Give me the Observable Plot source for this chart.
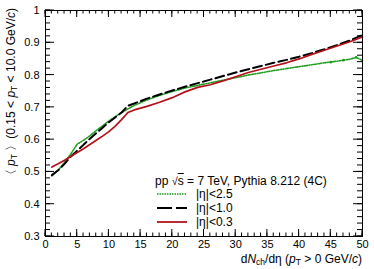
<!DOCTYPE html>
<html><head><meta charset="utf-8">
<script src="https://cdn.jsdelivr.net/npm/d3@7"></script>
<script src="https://cdn.jsdelivr.net/npm/@observablehq/plot@0.6"></script>
<style>
body{margin:0;background:#fff;font-family:"Liberation Sans",Arial,sans-serif;}
#wrap{position:relative;width:374px;height:269px;}
#legend{position:absolute;left:155px;top:175px;font-size:12px;line-height:14px;color:#000;}
#legend .row{display:flex;align-items:center;height:14px;}
#legend .row.first{height:12px;}
#legend svg{margin-right:9px;}
</style>
</head><body>
<div id="wrap"></div>
<script>
// data
const xGreen = [1,2,3,4,5,6,7,8,9,10,12,14,16,18,20,22,24,26,28,30,32,34,36,38,40,42,44,46,48,49,50];
const yGreen = [0.488,0.505,0.530,0.556,0.586,0.598,0.612,0.628,0.643,0.658,0.684,0.706,0.723,0.737,0.749,0.760,0.768,0.776,0.784,0.792,0.800,0.807,0.814,0.820,0.826,0.832,0.838,0.843,0.849,0.855,0.845];
const xBlack = [1,2,3,4,5,6,7,8,9,10,12,13,14,16,18,20,22,24,26,28,30,32,34,36,38,40,42,44,46,48,50];
const yBlack = [0.490,0.505,0.525,0.548,0.566,0.584,0.603,0.620,0.637,0.654,0.684,0.705,0.712,0.727,0.740,0.752,0.764,0.775,0.786,0.797,0.808,0.818,0.828,0.838,0.847,0.857,0.868,0.880,0.893,0.907,0.924];
const xRed = [1,2,3,4,5,6,7,8,9,10,11,12,13,14,16,18,20,22,24,26,28,30,32,34,36,38,40,42,44,46,48,50];
const yRed = [0.515,0.525,0.536,0.548,0.560,0.572,0.585,0.598,0.611,0.625,0.642,0.662,0.684,0.692,0.703,0.716,0.730,0.748,0.762,0.770,0.782,0.795,0.808,0.818,0.828,0.838,0.850,0.864,0.877,0.890,0.903,0.918];
const markerX = [45,47,49];
const markerY = [0.840,0.846,0.855];
const legendLabels = ["|η|<2.5","|η|<1.0","|η|<0.3"];
const xMajor = [0,5,10,15,20,25,30,35,40,45,50];
const xMinor = d3.range(0,51,1);
const yMajor = [0.3,0.4,0.5,0.6,0.7,0.8,0.9,1.0];
const yMinor = d3.range(0,36).map(i => +(0.3 + i*0.02).toFixed(2)).filter(v => v <= 1.0001);

const cGreen = "#1f9e1f", cBlack = "#000", cRed = "#b3121b";
const dGreen = "3,1.5,1,1.5,1,1.5";
const dBlack = "9,4";

const green = xGreen.map((x,i)=>({x, y:yGreen[i]}));
const black = xBlack.map((x,i)=>({x, y:yBlack[i]}));
const red = xRed.map((x,i)=>({x, y:yRed[i]}));
const markers = markerX.map((x,i)=>({x, y:markerY[i]}));

const W = 374, H = 269, ML = 45, MR = 12, MT = 10, MB = 33;

const chart = Plot.plot({
  width: W, height: H,
  marginLeft: ML, marginRight: MR, marginTop: MT, marginBottom: MB,
  style: {fontFamily: '"Liberation Sans", Arial, sans-serif', fontSize: "11px", background: "#fff", color: "#000"},
  x: {domain: [0,50], axis: null},
  y: {domain: [0.3,1.0], axis: null},
  marks: [
    Plot.line(green, {x:"x", y:"y", stroke:cGreen, strokeWidth:1.6, strokeDasharray:dGreen}),
    Plot.dot(markers, {x:"x", y:"y", r:1.4, fill:cGreen, stroke:null}),
    Plot.line(black, {x:"x", y:"y", stroke:cBlack, strokeWidth:2, strokeDasharray:dBlack}),
    Plot.line(red, {x:"x", y:"y", stroke:cRed, strokeWidth:1.7}),
    Plot.frame({stroke:"#000", strokeWidth:1}),
    Plot.axisX(xMajor, {anchor:"bottom", tickSize:0, tickPadding:4, label:null, tickFormat: d => String(d)}),
    Plot.axisY(yMajor, {anchor:"left", tickSize:0, tickPadding:6, label:null, tickFormat: d => d === 1 ? "1" : d.toFixed(1)})
  ]
});
document.getElementById("wrap").appendChild(chart);

// inward ticks on all four sides, positioned through Plot's own scales
const svg = d3.select(chart);
const sx = chart.scale("x"), sy = chart.scale("y");
const x0 = ML, x1 = W - MR, y0 = MT, y1 = H - MB;
const gt = svg.append("g").attr("stroke","#000").attr("stroke-width",1);
const addX = (vals, len) => vals.forEach(v => {
  const px = sx.apply(v);
  gt.append("line").attr("x1",px).attr("x2",px).attr("y1",y1).attr("y2",y1-len);
  gt.append("line").attr("x1",px).attr("x2",px).attr("y1",y0).attr("y2",y0+len);
});
const addY = (vals, len) => vals.forEach(v => {
  const py = sy.apply(v);
  gt.append("line").attr("y1",py).attr("y2",py).attr("x1",x0).attr("x2",x0+len);
  gt.append("line").attr("y1",py).attr("y2",py).attr("x1",x1).attr("x2",x1-len);
});
addX(xMinor, 3.5); addX(xMajor, 7);
addY(yMinor, 5); addY(yMajor, 9);

// axis titles with italics and subscripts
const ff = '"Liberation Sans", Arial, sans-serif';
const xt = svg.append("text").attr("x", 362).attr("y", 263).attr("text-anchor","end")
  .attr("font-family", ff).attr("font-size", 12).attr("fill","#000");
xt.append("tspan").text("d");
xt.append("tspan").attr("font-style","italic").text("N");
xt.append("tspan").attr("font-size",8.5).attr("dy",2).text("ch");
xt.append("tspan").attr("dy",-2).text("/dη (");
xt.append("tspan").attr("font-style","italic").text("p");
xt.append("tspan").attr("font-size",8.5).attr("dy",2).text("T");
xt.append("tspan").attr("dy",-2).text(" > 0 GeV/");
xt.append("tspan").attr("font-style","italic").text("c");
xt.append("tspan").text(")");

const yt = svg.append("text").attr("transform","translate(15,8) rotate(-90)").attr("text-anchor","end")
  .attr("font-family", ff).attr("font-size", 12).attr("fill","#000");
yt.append("tspan").text("〈 ");
yt.append("tspan").attr("font-style","italic").text("p");
yt.append("tspan").attr("font-size",8.5).attr("dy",2).text("T");
yt.append("tspan").attr("dy",-2).text(" 〉(0.15 < ");
yt.append("tspan").attr("font-style","italic").text("p");
yt.append("tspan").attr("font-size",8.5).attr("dy",2).text("T");
yt.append("tspan").attr("dy",-2).text(" < 10.0 GeV/");
yt.append("tspan").attr("font-style","italic").text("c");
yt.append("tspan").text(")");

// legend
const leg = d3.select("#wrap").append("div").attr("id","legend");
leg.append("div").attr("class","row first").html("pp&nbsp;<span style='font-size:11px'>√</span><span style='text-decoration:overline'>s</span>&nbsp;= 7 TeV, Pythia 8.212 (4C)");
const styles = [[cGreen,1.6,"1.5,1"],[cBlack,2,"15,4"],[cRed,1.8,null]];
legendLabels.forEach((lab,i) => {
  const row = leg.append("div").attr("class","row");
  const s = row.append("svg").attr("width",30).attr("height",14).style("margin-left","2px");
  s.append("line").attr("x1",0).attr("x2",30).attr("y1",7).attr("y2",7)
    .attr("stroke",styles[i][0]).attr("stroke-width",styles[i][1])
    .attr("stroke-dasharray",styles[i][2]);
  row.append("span").text(lab);
});
</script>
</body></html>
